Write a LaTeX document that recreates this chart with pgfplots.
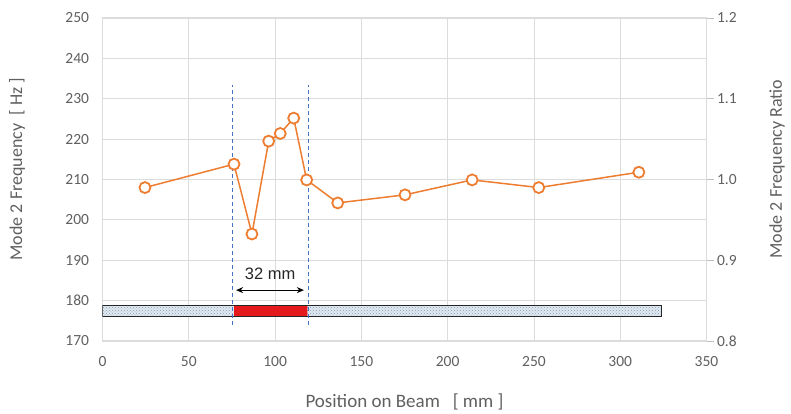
\documentclass[border=0pt]{standalone}
\usepackage{pgfplots}
\pgfplotsset{compat=1.18}
\usepackage{fontspec}
\setmainfont{Carlito}
\newfontfamily\arialfont{Liberation Sans}
\usetikzlibrary{patterns,arrows.meta}
\definecolor{txtgray}{HTML}{606060}
\definecolor{gridgray}{HTML}{DCDCDC}
\definecolor{tickgray}{HTML}{BFBFBF}
\definecolor{orangeline}{HTML}{ED7D31}
\definecolor{dashblue}{HTML}{4472C4}
\definecolor{beamblue}{HTML}{DDEBF7}
\definecolor{beamred}{HTML}{E41A1C}
\begin{document}
\begin{tikzpicture}
\path[use as bounding box] (-102.5pt,-73pt) rectangle (688.5pt,341pt);
\begin{axis}[
  at={(0,0)}, anchor=south west, scale only axis,
  width=604pt, height=323pt,
  xmin=0, xmax=350, ymin=170, ymax=250,
  xtick={0,50,...,350}, ytick={170,180,...,250},
  grid=major, grid style={gridgray, line width=0.8pt},
  axis line style={gridgray, line width=1pt},
  tick style={draw=none},
  ticklabel style={font=\fontsize{15.5}{18}\selectfont, text=txtgray},
  /pgf/number format/assume math mode=true,
  yticklabel style={xshift=-10pt},
  xticklabel style={yshift=-12pt},
  xlabel={Position on Beam\ \ \ [ mm ]},
  ylabel={Mode 2 Frequency\ \ [ Hz ]},
  label style={font=\fontsize{18}{21}\selectfont, text=txtgray},
  xlabel style={at={(axis description cs:0.5,0)}, anchor=center, yshift=-61pt, font=\fontsize{19}{22}\selectfont},
  ylabel style={at={(axis description cs:-0.1415,0.532)}, anchor=center},
]
% beam
\addplot[draw=none, fill=beamblue] coordinates {(0,176) (324,176) (324,178.7) (0,178.7) (0,176)};
\addplot[draw=none, pattern=crosshatch dots, pattern color=gray!80] coordinates {(0,176) (324,176) (324,178.7) (0,178.7) (0,176)};
\addplot[draw=none, fill=beamred] coordinates {(76.3,176) (118.7,176) (118.7,178.7) (76.3,178.7) (76.3,176)};
\addplot[draw=black!85, line width=1.2pt] coordinates {(0,176) (324,176) (324,178.7) (0,178.7) (0,176)};
% dashed markers
\addplot[dashblue, line width=0.9pt, dash pattern=on 4pt off 3pt] coordinates {(75.5,174) (75.5,233.4)};
\addplot[dashblue, line width=0.9pt, dash pattern=on 4pt off 3pt] coordinates {(119.5,174) (119.5,233.4)};
% arrow
\addplot[black, line width=0.9pt, {Stealth[length=7pt,width=6pt]}-{Stealth[length=7pt,width=6pt]}] coordinates {(77.4,182.6) (116.7,182.6)};
\node[font=\arialfont\fontsize{16.5}{19}\selectfont, text=black!85] at (axis cs:97.1,186.6) {32 mm};
% data
\addplot[orangeline, line width=1.5pt, mark=*, mark size=5.5pt,
  mark options={fill=white, draw=orangeline, line width=1.8pt}] coordinates {
  (24.6,208.0) (76.2,213.8) (86.6,196.5) (96.3,219.5) (103.0,221.4)
  (110.8,225.2) (118.3,209.9) (136.3,204.2) (175.3,206.2) (214.2,209.9)
  (252.8,208.0) (310.8,211.8)};
\end{axis}
\begin{axis}[
  at={(0,0)}, anchor=south west, scale only axis,
  width=604pt, height=323pt,
  xmin=0, xmax=350, ymin=0.8, ymax=1.2,
  axis x line=none, axis y line*=right,
  ytick={0.8,0.9,1.0,1.1,1.2},
  y axis line style={gridgray, line width=1pt},
  tick style={tickgray, line width=0.8pt},
  tick align=outside, major tick length=7pt,
  ticklabel style={font=\fontsize{15.5}{18}\selectfont, text=txtgray},
  /pgf/number format/assume math mode=true,
  yticklabel style={/pgf/number format/fixed, /pgf/number format/fixed zerofill, /pgf/number format/precision=1},
  ylabel={Mode 2 Frequency Ratio},
  label style={font=\fontsize{18}{21}\selectfont, text=txtgray},
  ylabel style={at={(axis description cs:1.117,0.532)}, anchor=center, inner sep=0pt},
]
\end{axis}
\end{tikzpicture}
\end{document}
